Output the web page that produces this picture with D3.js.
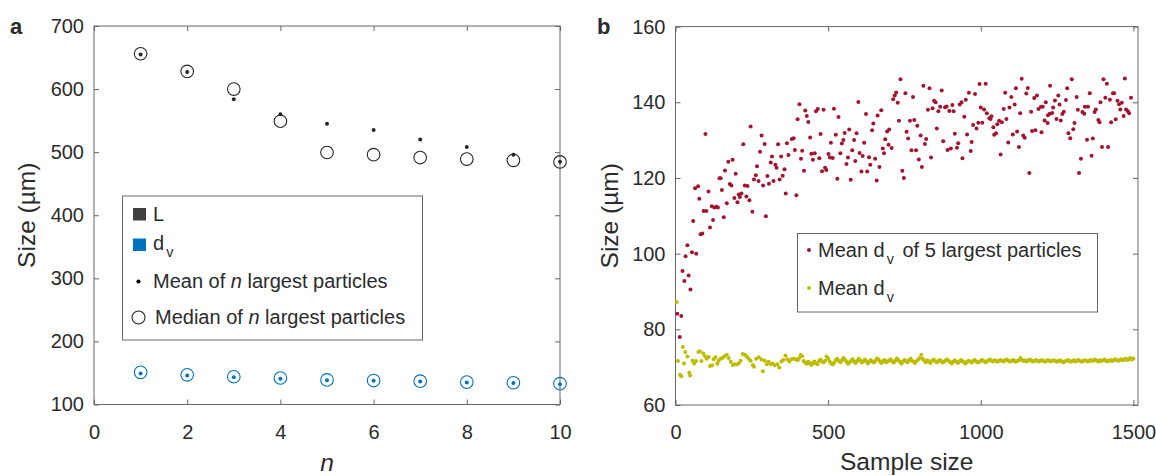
<!DOCTYPE html>
<html>
<head>
<meta charset="utf-8">
<script src="https://cdn.jsdelivr.net/npm/d3@7"></script>
<style>
  body { margin: 0; background: #fff; }
  text { font-family: "Liberation Sans", Arial, sans-serif; fill: #2b2b2b; }
</style>
</head>
<body>
<div class="chart"></div>
<script>
// ---- panel a: size vs number of largest particles ----
const nValues = [1, 2, 3, 4, 5, 6, 7, 8, 9, 10];
const lMean = [655, 627, 584, 560, 545, 535, 520, 508, 496, 485];
const lMedian = [656, 628, 600, 549, 499.5, 496, 491.5, 489, 487, 484.5];
const dvMean = [149, 146, 143, 141, 138.6, 137.5, 136.5, 135, 134, 132];
const dvMedian = [151, 147, 144, 142, 139, 138, 137, 135.5, 134.5, 133];
const aXTicks = [0, 2, 4, 6, 8, 10];
const aYTicks = [100, 200, 300, 400, 500, 600, 700];

// ---- panel b: size vs sample size ----
// mean dv of the 5 largest particles, [sample size, size]
const largest5 = [
  [6,84.1],[14,78.0],[19,83.5],[23,95.4],[29,92.8],[33,99.3],[39,102.2],[43,94.2],[49,90.5],[54,100.4],
  [58,108.6],[64,117.3],[68,100.0],[74,117.8],[78,114.5],[82,105.1],[88,105.3],[92,111.3],[98,131.6],[101,111.3],
  [108,116.4],[113,106.9],[119,112.5],[123,108.9],[127,112.2],[134,112.4],[139,112.2],[144,119.9],[148,119.9],[152,116.8],
  [158,109.6],[162,122.0],[168,113.3],[173,124.3],[178,118.4],[183,118.0],[187,124.8],[193,114.7],[197,121.1],[203,113.6],
  [207,115.6],[211,115.0],[216,115.9],[222,128.9],[227,118.0],[232,115.1],[236,117.9],[242,114.1],[246,133.6],[252,111.1],
  [257,119.6],[263,120.7],[267,123.1],[272,119.2],[277,126.9],[282,131.2],[287,118.0],[292,129.0],[296,109.9],[301,120.5],
  [306,118.5],[312,124.1],[316,125.7],[321,119.2],[327,123.5],[331,122.7],[336,128.9],[341,119.6],[346,125.7],[351,120.6],
  [357,122.3],[361,115.9],[365,129.2],[370,126.1],
  [381,130.3],[387,130.5],[391,127.4],[396,115.4],[400,135.5],[406,139.5],[411,125.1],[415,127.2],[421,121.9],[425,137.8],
  [430,136.4],[435,134.8],[441,130.7],[445,126.4],[450,124.8],[456,126.5],[460,137.6],[466,138.2],[471,125.2],[475,131.6],
  [480,121.8],[485,138.0],[490,122.7],[494,122.1],[501,126.3],[506,125.4],[509,129.3],[515,125.3],[519,138.3],[525,131.4],
  [530,119.8],[534,136.1],[540,126.5],[545,129.1],[550,130.0],[554,131.9],[560,123.7],[565,125.4],[569,132.8],[574,119.5],
  [579,127.3],[585,130.0],[589,124.5],[593,131.8],[599,140.1],[603,126.6],[609,121.7],[613,125.8],[618,129.3],[624,136.9],
  [628,121.7],[634,125.5],[638,123.5],[644,132.6],[648,134.4],[654,125.1],[659,119.3],[662,136.5],[668,122.9],[674,137.9],
  [679,127.8],[683,126.5],[687,130.2],[693,132.3],[698,128.8],[700,132.8],
  [708,127.9],[713,140.8],[718,141.8],[723,142.6],[728,139.9],[732,135.1],[737,146.1],[743,121.9],[748,120.0],[753,142.4],
  [757,132.2],[762,130.4],[768,135.1],[773,127.3],[778,141.4],[782,135.3],[788,127.3],[792,133.8],[797,124.9],[803,131.2],
  [807,122.9],[812,144.4],[817,129.0],[821,130.3],[827,138.0],[832,143.7],[837,125.4],[842,138.4],[847,140.4],[852,140.0],
  [856,133.1],[861,137.6],[867,138.8],[872,143.1],[877,129.7],[883,138.7],[888,138.9],[891,127.4],[897,137.7],[902,127.8],
  [907,139.3],[911,137.6],[915,131.7],[922,128.0],[926,129.2],[931,139.4],[937,140.0],[940,125.2],[946,136.2],[951,140.7],
  [955,131.5],[961,142.5],[967,127.1],[970,129.5],[975,134.0],[981,142.2],[986,133.1],[992,134.6],[996,144.8],[1000,138.6],
  [1005,134.6],[1011,138.1],[1016,144.9],[1020,137.1],[1028,135.8],[1032,135.6],[1035,136.3],[1041,133.4],[1044,131.4],
  [1050,131.8],[1054,134.2],[1060,135.1],[1065,126.2],[1069,134.7],[1075,138.2],[1080,142.5],[1084,135.6],[1090,129.4],[1094,138.6],
  [1100,141.4],[1105,131.5],[1111,139.4],[1115,143.7],[1119,132.3],[1125,128.2],[1129,137.1],[1134,146.2],[1139,131.2],[1144,130.6],
  [1149,142.3],[1154,143.8],[1159,121.3],[1165,137.5],[1168,132.4],[1175,141.1],[1179,132.6],[1184,141.8],[1189,138.2],[1197,138.8],
  [1199,132.1],[1203,138.8],[1209,135.2],[1213,140.0],[1219,134.5],[1220,136.6],[1226,137.0],[1227,144.4],[1234,137.2],[1237,138.6],
  [1243,140.5],[1248,135.6],[1254,141.8],[1258,139.4],[1262,135.2],[1267,136.9],[1272,137.5],[1279,140.6],[1283,143.7],[1287,131.8],
  [1293,130.5],[1298,146.1],[1303,132.9],[1307,134.5],[1314,141.4],[1318,138.0],[1322,121.3],[1328,125.1],[1333,137.4],[1339,137.0],
  [1341,138.8],[1348,130.1],[1351,138.8],[1357,142.4],[1363,125.9],[1367,130.4],[1373,137.4],[1377,138.1],[1385,135.3],[1389,134.7],
  [1392,140.0],[1397,128.2],[1402,146.1],[1408,141.2],[1413,144.9],[1417,128.2],[1423,140.7],[1427,134.7],[1433,142.4],[1437,142.4],
  [1442,135.5],[1448,140.4],[1453,139.5],[1457,138.1],[1462,139.9],[1468,136.4],[1472,146.3],[1476,138.1],[1482,137.6],[1486,137.1],
  [1492,141.2]
];

// mean dv, first samples read point by point
const meanDvEarly = [
  [4,87.2],[8,71.6],[15,68.0],[19,67.6],[24,75.3],[28,71.0],[32,74.0],[39,72.8],[45,68.5],[48,67.8],
  [56,71.7],[61,71.0],[67,71.6],[75,74.0],[80,74.2],[85,71.6],[91,73.6],[97,72.9],[102,72.2],[109,72.7],
  [113,70.3],[120,70.5],[125,72.1],[131,72.6],[137,70.9],[141,71.7],[148,72.2],[155,72.5],[160,72.9],[168,73.3],
  [174,72.4],[181,71.4],[187,70.6],[194,70.8],[200,70.7],[207,71.0],[213,71.7],[220,73.5],[227,73.3],[233,72.8],
  [240,72.2],[246,71.7],[253,70.6],[257,70.1],[264,72.2],[273,72.6],[282,72.0],[286,68.9],[292,71.7],[299,70.8],
  [305,71.4],[312,70.8],[318,71.0],[325,70.5],[334,70.8],[340,69.9],[347,71.5],[353,71.9],[360,73.1],[366,72.1],
  [373,71.5],[379,72.1],[386,72.2],[393,72.1]
];
// mean dv from sample size 400 on, every 5 samples
const tailSamples = d3.range(400, 1501, 5);
const meanDvTail = [
  71.8, 72.4, 73.2, 72.9, 71.6, 71.2, 70.9, 71.4, 71.0, 70.6, 71.1, 71.5, 71.0, 70.8, 71.6, 72.0, 71.4, 71.2, 71.7, 72.8,
  72.3, 71.5, 71.0, 70.7, 71.2, 71.9, 72.2, 71.6, 71.3, 71.8, 72.4, 72.0, 71.4, 70.9, 71.3, 71.7, 72.1, 71.5, 71.1, 71.6,
  72.2, 71.8, 71.2, 71.5, 72.0, 71.6, 71.0, 71.4, 71.9, 71.5, 71.2, 71.7, 72.3, 72.0, 71.4, 71.1, 71.6, 71.9, 71.3, 71.5,
  71.8, 72.1, 71.5, 71.2, 71.7, 72.3, 71.9, 71.4, 71.0, 71.5, 71.9, 71.6, 71.3, 71.8, 72.2, 71.7, 71.4, 71.1, 71.6, 72.0,
  72.4, 73.3, 72.2, 71.7, 71.3, 71.8, 71.5, 71.1, 71.6, 72.0, 71.7, 71.3, 71.5, 71.9, 71.6, 71.2, 71.4, 71.8, 72.0, 71.6,
  71.3, 71.0, 71.5, 71.8, 71.4, 71.1, 71.5, 71.9, 71.6, 71.3, 71.0, 71.4, 71.7, 71.5, 71.2, 71.6, 71.9, 71.5, 71.2, 71.4,
  71.7, 71.9, 71.6, 71.3, 71.5, 71.8, 72.0, 71.7, 71.5, 71.8, 71.6, 71.4, 71.7, 71.9, 71.6, 71.5, 71.8, 72.0, 71.7, 71.5,
  71.6, 71.9, 71.7, 71.4, 71.6, 71.8, 72.4, 71.9, 71.6, 71.8, 71.5, 71.7, 72.0, 71.8, 71.5, 71.6, 71.9, 71.7, 71.5, 71.7,
  71.9, 71.6, 71.4, 71.7, 71.9, 71.6, 71.5, 71.7, 71.8, 71.6, 71.4, 71.6, 71.8, 71.5, 71.3, 71.5, 71.7, 71.9, 71.6, 71.4,
  71.6, 71.8, 71.5, 71.7, 71.9, 71.6, 71.4, 71.6, 71.8, 71.7, 71.5, 71.7, 71.9, 71.6, 71.8, 72.0, 71.7, 71.5, 71.8, 71.6,
  71.8, 72.0, 71.7, 71.5, 71.7, 71.9, 71.6, 71.8, 72.1, 71.9, 71.7, 71.9, 72.1, 71.8, 72.0, 72.2, 71.9, 72.1, 72.4, 72.0, 72.3
];
const bXTicks = [0, 500, 1000, 1500];
const bYTicks = [60, 80, 100, 120, 140, 160];

const colors = { dark: '#262626', lSquare: '#404040', blue: '#0072BD', red: '#A2142F', yellow: '#BDBD00' };
const tickFont = 20;
const labelFont = 24.5;
const legendFont = 20;
const dotR = 2.0;

const svg = d3.select('.chart')
  .append('svg')
  .attr('width', 1156)
  .attr('height', 476);

// box with inward ticks on all four sides, like matlab "box on"
function drawFrame(x, y, xTicks, yTicks) {
  const [left, right] = x.range();
  const [bottom, top] = y.range();
  const g = svg.append('g');
  const fmt = d3.format('d');

  const axes = [
    [d3.axisBottom(x).tickValues(xTicks).tickFormat(fmt).tickPadding(20), `translate(0,${bottom})`],
    [d3.axisLeft(y).tickValues(yTicks).tickFormat(fmt).tickPadding(10), `translate(${left},0)`],
    [d3.axisTop(x).tickValues(xTicks).tickFormat(''), `translate(0,${top})`],
    [d3.axisRight(y).tickValues(yTicks).tickFormat(''), `translate(${right},0)`]
  ];
  axes.forEach(([axis, tr]) => {
    const a = g.append('g')
      .attr('transform', tr)
      .call(axis.tickSizeInner(-5).tickSizeOuter(0));
    a.attr('font-size', tickFont).attr('font-family', null).attr('color', colors.dark);
    a.select('.domain').remove();
    a.selectAll('.tick line').attr('stroke', '#666');
  });

  g.append('rect')
    .attr('x', left)
    .attr('y', top)
    .attr('width', right - left)
    .attr('height', bottom - top)
    .attr('fill', 'none')
    .attr('stroke', '#666')
    .attr('stroke-width', 1);
  return g;
}

// text with a subscript v after "d"
function dvText(g, x, y, before, after) {
  const t = g.append('text').attr('x', x).attr('y', y).attr('font-size', legendFont);
  t.append('tspan').text(before + 'd');
  t.append('tspan').attr('font-size', legendFont * 0.72).attr('dx', 2).attr('dy', 7).text('v');
  if (after) t.append('tspan').attr('dy', -7).attr('dx', 3).text(after);
  return t;
}

// ---------------- panel a ----------------
const xA = d3.scaleLinear([0, 10], [94, 560]);
const yA = d3.scaleLinear([100, 700], [404.5, 26]);
drawFrame(xA, yA, aXTicks, aYTicks);

const markersA = svg.append('g');
[[lMedian, colors.dark], [dvMedian, colors.blue]].forEach(([vals, c]) => {
  markersA.selectAll(null)
    .data(nValues)
    .enter().append('circle')
    .attr('cx', d => xA(d))
    .attr('cy', (d, i) => yA(vals[i]))
    .attr('r', 6.3)
    .attr('fill', 'none')
    .attr('stroke', c)
    .attr('stroke-width', 1.1);
});
[[lMean, colors.dark], [dvMean, colors.blue]].forEach(([vals, c]) => {
  markersA.selectAll(null)
    .data(nValues)
    .enter().append('circle')
    .attr('cx', d => xA(d))
    .attr('cy', (d, i) => yA(vals[i]))
    .attr('r', dotR)
    .attr('fill', c);
});

// legend a
const legA = svg.append('g');
legA.append('rect')
  .attr('x', 122.5).attr('y', 196).attr('width', 300).attr('height', 144)
  .attr('fill', '#fff').attr('stroke', '#666');
legA.append('rect').attr('x', 133).attr('y', 208).attr('width', 13).attr('height', 12.5).attr('fill', colors.lSquare);
legA.append('text').attr('x', 153).attr('y', 220.5).attr('font-size', legendFont).text('L');
legA.append('rect').attr('x', 133).attr('y', 238.5).attr('width', 13).attr('height', 12.5).attr('fill', colors.blue);
dvText(legA, 153, 250, '', null);
legA.append('circle').attr('cx', 138.5).attr('cy', 281.5).attr('r', 2.1).attr('fill', '#000');
const meanLabel = legA.append('text').attr('x', 153).attr('y', 288).attr('font-size', legendFont);
meanLabel.append('tspan').text('Mean of ');
meanLabel.append('tspan').attr('font-style', 'italic').text('n');
meanLabel.append('tspan').text(' largest particles');
legA.append('circle').attr('cx', 138.5).attr('cy', 317.5).attr('r', 6.5)
  .attr('fill', 'none').attr('stroke', colors.dark).attr('stroke-width', 1.1);
const medianLabel = legA.append('text').attr('x', 155).attr('y', 324).attr('font-size', legendFont);
medianLabel.append('tspan').text('Median of ');
medianLabel.append('tspan').attr('font-style', 'italic').text('n');
medianLabel.append('tspan').text(' largest particles');

svg.append('text')
  .attr('x', (xA.range()[0] + xA.range()[1]) / 2).attr('y', 471)
  .attr('text-anchor', 'middle').attr('font-size', labelFont).attr('font-style', 'italic')
  .text('n');
svg.append('text')
  .attr('transform', `translate(35,${(yA.range()[0] + yA.range()[1]) / 2}) rotate(-90)`)
  .attr('text-anchor', 'middle').attr('font-size', labelFont)
  .text('Size (µm)');
svg.append('text').attr('x', 10).attr('y', 34).attr('font-size', 22).attr('font-weight', 'bold')
  .attr('fill', '#000').text('a');

// ---------------- panel b ----------------
const xB = d3.scaleLinear([0, 1515], [675.5, 1138]);
const yB = d3.scaleLinear([60, 160], [405, 26.6]);
drawFrame(xB, yB, bXTicks, bYTicks);

const meanDv = meanDvEarly.concat(tailSamples.map((s, i) => [s, meanDvTail[i]]));
const markersB = svg.append('g');
[[meanDv, colors.yellow], [largest5, colors.red]].forEach(([pts, c]) => {
  markersB.selectAll(null)
    .data(pts)
    .enter().append('circle')
    .attr('cx', d => xB(d[0]))
    .attr('cy', d => yB(d[1]))
    .attr('r', dotR)
    .attr('fill', c);
});

// legend b
const legB = svg.append('g');
legB.append('rect')
  .attr('x', 797.5).attr('y', 233.5).attr('width', 300).attr('height', 78.5)
  .attr('fill', '#fff').attr('stroke', '#666');
legB.append('circle').attr('cx', 809).attr('cy', 250).attr('r', dotR).attr('fill', colors.red);
dvText(legB, 818, 256.5, 'Mean ', ' of 5 largest particles');
legB.append('circle').attr('cx', 809).attr('cy', 288).attr('r', dotR).attr('fill', colors.yellow);
dvText(legB, 818, 295, 'Mean ', null);

svg.append('text')
  .attr('x', (xB.range()[0] + xB.range()[1]) / 2).attr('y', 470)
  .attr('text-anchor', 'middle').attr('font-size', labelFont)
  .text('Sample size');
svg.append('text')
  .attr('transform', `translate(618,${(yB.range()[0] + yB.range()[1]) / 2}) rotate(-90)`)
  .attr('text-anchor', 'middle').attr('font-size', labelFont)
  .text('Size (µm)');
svg.append('text').attr('x', 597).attr('y', 34).attr('font-size', 22).attr('font-weight', 'bold')
  .attr('fill', '#000').text('b');
</script>
</body>
</html>
